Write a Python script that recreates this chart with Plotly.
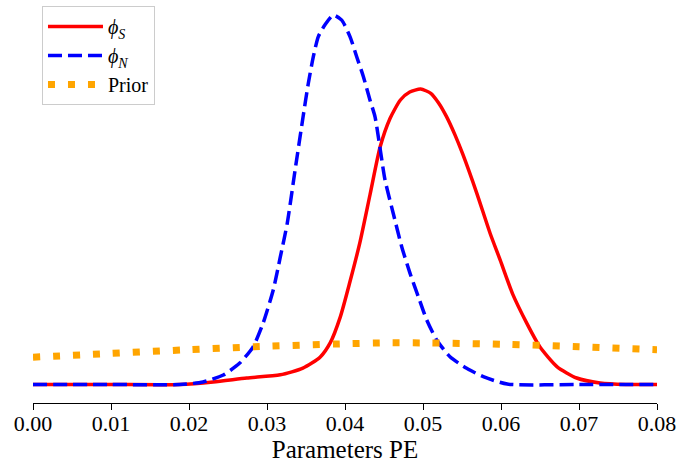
import plotly.graph_objects as go

# phi_S (red, solid)
xs_S = [0.0, 0.010, 0.0188, 0.0231, 0.0274, 0.0317, 0.0346, 0.0368, 0.0381, 0.0394, 0.0406,
        0.0419, 0.0432, 0.0445, 0.04577, 0.0471, 0.0483, 0.0497, 0.0510, 0.0520, 0.0530,
        0.0541, 0.0551, 0.0569, 0.0586, 0.0599, 0.0615, 0.0633, 0.0650, 0.0672, 0.0697,
        0.0727, 0.0760, 0.0800]
ys_S = [0.0, 0.0, 0.0, 0.6, 1.55, 2.3, 3.9, 6.5, 9.9, 16.1, 24.2,
        33.7, 45.1, 56.5, 63.3, 67.7, 69.6, 70.3, 69.3, 67.0, 63.8,
        59.4, 54.8, 45.5, 36.0, 29.6, 21.5, 14.6, 8.9, 4.2, 1.55,
        0.36, 0.0, 0.0]

# phi_N (blue, dashed)
xs_N = [0.0, 0.010, 0.0188, 0.0218, 0.0244, 0.0265, 0.0282, 0.0295, 0.0308, 0.0317, 0.0326,
        0.0336, 0.03465, 0.0353, 0.03594, 0.03658, 0.03744, 0.0385, 0.03958, 0.04064,
        0.0415, 0.04235, 0.0432, 0.04385, 0.04513, 0.04619, 0.04727, 0.04833, 0.0494,
        0.05047, 0.05176, 0.05346, 0.0556, 0.05773, 0.0608, 0.0700, 0.0800]
ys_N = [0.0, 0.0, 0.0, 0.6, 2.26, 5.1, 8.9, 14.6, 22.5, 30.3, 38.4,
        51.0, 64.0, 71.7, 78.0, 82.8, 85.6, 87.9, 86.7, 82.8,
        78.0, 73.3, 67.7, 63.7, 48.7, 40.7, 32.8, 26.5, 20.9,
        15.4, 10.6, 6.6, 3.86, 1.86, 0.1, 0.0, 0.0]

# Prior (orange, dotted)
xs_P = [0.0, 0.010, 0.020, 0.030, 0.040, 0.045, 0.050, 0.060, 0.070, 0.080]
ys_P = [6.5, 7.4, 8.3, 9.1, 9.7, 9.9, 9.9, 9.6, 9.0, 8.3]

x_ticks = [0.0, 0.01, 0.02, 0.03, 0.04, 0.05, 0.06, 0.07, 0.08]
x_tick_labels = ["0.00", "0.01", "0.02", "0.03", "0.04", "0.05", "0.06", "0.07", "0.08"]

font_family = "Liberation Serif"

fig = go.Figure()
fig.add_trace(go.Scatter(x=xs_S, y=ys_S, mode="lines",
                         name="<i>ϕ</i><sub><i>S</i></sub>",
                         line=dict(color="red", width=3.5, shape="spline", smoothing=0.6)))
fig.add_trace(go.Scatter(x=xs_N, y=ys_N, mode="lines",
                         name="<i>ϕ</i><sub><i>N</i></sub>",
                         line=dict(color="blue", width=3.5, dash="14px,6px", shape="spline", smoothing=0.6)))
fig.add_trace(go.Scatter(x=xs_P, y=ys_P, mode="lines", name="Prior",
                         line=dict(color="orange", width=7, dash="7px,13px", shape="spline", smoothing=0.6)))

fig.update_layout(
    width=678, height=465,
    margin=dict(l=33, r=21, t=0, b=62),
    paper_bgcolor="white", plot_bgcolor="white",
    font=dict(family=font_family, size=22, color="black"),
    legend=dict(x=0.0144, y=0.985, xanchor="left", yanchor="top",
                bgcolor="white", bordercolor="#cccccc", borderwidth=1,
                itemwidth=55,
                font=dict(family=font_family, size=20), tracegroupgap=0),
    xaxis=dict(range=[0, 0.08], tickvals=x_ticks, ticktext=x_tick_labels,
               showline=True, linecolor="black", linewidth=1, ticks="outside",
               ticklen=6, tickcolor="black", showgrid=False, zeroline=False,
               ticklabelstandoff=-5,
               tickfont=dict(family=font_family, size=22),
               title=dict(text="Parameters PE", standoff=2,
                          font=dict(family=font_family, size=25)),
               automargin=False),
    yaxis=dict(range=[-4.4, 91.5], visible=False, showgrid=False, zeroline=False),
    showlegend=True,
)

fig.write_html("out.html", config={"displayModeBar": False},
               post_script="document.body.style.margin='0';document.body.style.overflow='hidden';")
